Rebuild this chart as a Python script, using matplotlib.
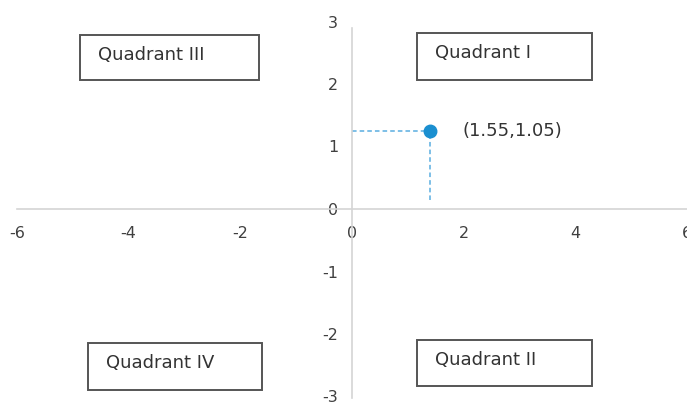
import matplotlib
matplotlib.use("Agg")
import matplotlib.pyplot as plt
from matplotlib.patches import Rectangle

plt.rcParams['font.family'] = ['DejaVu Sans']
plt.rcParams['axes.unicode_minus'] = False

# data
x_ticks = [-6, -4, -2, 0, 2, 4, 6]
y_ticks = [-3, -2, -1, 0, 1, 2, 3]
point_x = 1.4
point_y = 1.25
point_label = "(1.55,1.05)"
quadrant_names = ["Quadrant III", "Quadrant I", "Quadrant IV", "Quadrant II"]

# layout of boxes (x0, x1, y0, y1) in data units
box_layout = [(-4.875, -1.66, 2.06, 2.78),
              (1.16, 4.30, 2.06, 2.82),
              (-4.73, -1.61, -2.90, -2.14),
              (1.16, 4.30, -2.83, -2.10)]

fig = plt.figure(figsize=(6.87, 4.03), dpi=100)
ax = fig.add_axes([0, 0, 1, 1])
ax.set_xlim(-353/56, (687-353)/56)
ax.set_ylim(-(403-209)/62.5, 209/62.5)

for s in ['top', 'right']:
    ax.spines[s].set_visible(False)
ax.spines['left'].set_position(('data', 0))
ax.spines['bottom'].set_position(('data', 0))
ax.spines['left'].set_bounds(-3.03, 2.9)
ax.spines['bottom'].set_bounds(-6, 6)
for s in ['left', 'bottom']:
    ax.spines[s].set_color('#d4d4d4')
    ax.spines[s].set_linewidth(1.2)

ax.set_xticks(x_ticks)
ax.set_yticks(y_ticks)
ax.set_xticklabels([str(v) for v in x_ticks])
ax.set_yticklabels([str(v) for v in y_ticks])
ax.tick_params(axis='both', length=0, labelsize=11.5, labelcolor='#404040')
ax.tick_params(axis='x', pad=12)
ax.tick_params(axis='y', pad=10)

# dashed guide lines
ax.plot([0, point_x], [point_y, point_y], ls=(0, (3, 2)), color='#5aaee0', lw=1.1)
ax.plot([point_x, point_x], [0.15, point_y], ls=(0, (3, 2)), color='#5aaee0', lw=1.1)
ax.plot([point_x], [point_y], 'o', color='#1a8fd0', markersize=9)
ax.text(point_x + 0.58, point_y, point_label, fontsize=13, color='#333333',
        va='center', ha='left')

for name, (x0, x1, y0, y1) in zip(quadrant_names, box_layout):
    ax.add_patch(Rectangle((x0, y0), x1 - x0, y1 - y0, fill=False,
                           edgecolor='#555555', lw=1.4))
    ax.text(x0 + 0.33, (y0 + y1) / 2 + 0.05, name, fontsize=13, color='#333333',
            va='center', ha='left')

fig.savefig("out.png", dpi=100)
